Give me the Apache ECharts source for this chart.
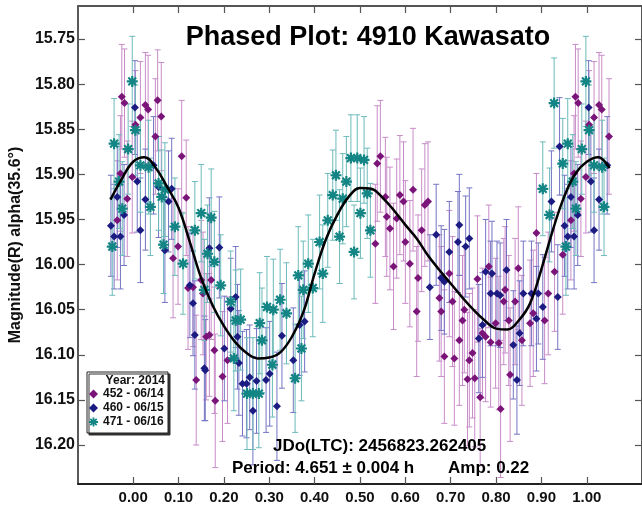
<!DOCTYPE html>
<html>
<head>
<meta charset="utf-8">
<script src="https://cdn.jsdelivr.net/npm/echarts@6/dist/echarts.min.js"></script>
<style>
html,body{margin:0;padding:0;background:#fff}
#Chart{width:642px;height:513px}
</style>
</head>
<body>
<div id="Chart"></div>
<script>
//tick labels
var xTicks=[0.00,0.10,0.20,0.30,0.40,0.50,0.60,0.70,0.80,0.90,1.00]
var yTicks=[15.75,15.80,15.85,15.90,15.95,16.00,16.05,16.10,16.15,16.20]

//[phase, mag, err]  452 - 06/14
var data452=[
[0.005,15.845,0.060],[0.016,15.837,0.062],[0.027,15.823,0.058],[0.033,15.828,0.060],[0.049,15.858,0.064],
[0.054,15.818,0.056],[0.062,15.836,0.060],[0.088,15.993,0.066],[0.099,15.980,0.064],[0.107,15.880,0.062],
[0.117,15.926,0.064],[0.121,16.026,0.068],[0.132,16.025,0.066],[0.139,16.128,0.072],[0.150,16.017,0.066],
[0.154,16.032,0.068],[0.161,16.080,0.070],[0.168,16.078,0.068],[0.172,16.017,0.066],[0.179,16.095,0.070],
[0.181,16.151,0.074],[0.197,16.124,0.072],[0.208,16.106,0.070],[0.534,15.977,0.066],[0.538,15.888,0.064],
[0.545,15.880,0.062],[0.556,15.925,0.066],[0.559,15.947,0.066],[0.566,15.960,0.068],[0.574,16.002,0.070],
[0.581,15.949,0.066],[0.588,15.923,0.066],[0.596,15.930,0.066],[0.600,15.975,0.068],[0.610,15.999,0.070],
[0.617,15.917,0.068],[0.625,16.052,0.072],[0.628,16.015,0.070],[0.636,15.962,0.068],[0.643,15.934,0.068],
[0.650,15.930,0.066],[0.675,16.037,0.070],[0.679,16.052,0.072],[0.686,16.102,0.074],[0.697,16.010,0.070],
[0.704,16.041,0.072],[0.708,16.104,0.074],[0.719,16.084,0.072],[0.726,16.062,0.072],[0.730,16.050,0.070],
[0.737,16.127,0.074],[0.741,16.106,0.074],[0.748,16.098,0.072],[0.753,16.126,0.076],[0.759,16.016,0.070],
[0.765,16.147,0.076],[0.770,16.076,0.072],[0.777,16.080,0.072],[0.784,16.002,0.068],[0.788,16.086,0.072],
[0.799,16.065,0.072],[0.806,16.087,0.074],[0.810,16.160,0.076],[0.817,16.041,0.070],[0.820,16.028,0.070],
[0.828,16.062,0.072],[0.831,16.122,0.074],[0.842,16.041,0.070],[0.849,16.004,0.068],[0.857,16.084,0.072],
[0.875,16.065,0.070],[0.882,16.054,0.070],[0.889,15.965,0.066],[0.907,16.062,0.070],[0.915,16.032,0.068],
[0.929,16.008,0.066],[0.947,15.989,0.066],[0.965,15.951,0.066],[0.972,15.899,0.064],[0.975,15.814,0.058],
[0.981,15.821,0.060],[0.987,15.927,0.064],[0.998,15.903,0.062]
]

//460 - 06/15
var data460=[
[0.004,15.826,0.052],[0.009,15.908,0.056],[0.016,15.962,0.058],[0.027,15.928,0.056],[0.045,15.890,0.054],
[0.056,15.914,0.056],[0.070,15.984,0.058],[0.078,15.930,0.056],[0.085,15.916,0.056],[0.125,16.023,0.058],
[0.132,16.043,0.058],[0.136,16.078,0.060],[0.157,16.115,0.058],[0.159,16.117,0.056],[0.168,15.982,0.056],
[0.190,15.981,0.056],[0.201,16.093,0.058],[0.215,16.049,0.056],[0.226,16.036,0.056],[0.230,16.080,0.058],
[0.233,16.109,0.058],[0.241,16.132,0.058],[0.250,16.132,0.060],[0.257,16.125,0.058],[0.264,16.162,0.060],
[0.272,16.129,0.058],[0.293,16.128,0.058],[0.301,16.121,0.058],[0.317,16.157,0.060],[0.328,16.079,0.058],
[0.353,16.106,0.058],[0.367,16.067,0.056],[0.378,16.063,0.056],[0.654,16.025,0.058],[0.668,15.967,0.056],
[0.679,16.015,0.058],[0.686,16.019,0.058],[0.697,15.986,0.056],[0.716,15.975,0.056],[0.719,15.956,0.056],
[0.733,15.980,0.056],[0.741,15.971,0.056],[0.762,16.082,0.060],[0.770,16.067,0.058],[0.777,16.008,0.058],
[0.788,16.032,0.058],[0.791,16.010,0.058],[0.802,16.032,0.058],[0.809,16.034,0.058],[0.823,16.006,0.056],
[0.838,16.089,0.060],[0.846,16.128,0.060],[0.852,16.076,0.058],[0.860,16.032,0.058],[0.878,16.032,0.058],
[0.889,16.060,0.058],[0.893,16.032,0.056],[0.903,16.047,0.058],[0.922,15.930,0.056],[0.936,16.036,0.058],
[0.940,15.869,0.054],[0.951,15.957,0.056],[0.958,15.969,0.058],[0.965,15.925,0.056],[0.972,15.969,0.058],
[0.980,15.945,0.056]
]

//471 - 06/16
var data471=[
[0.005,15.851,0.050],[0.016,15.890,0.052],[0.034,15.892,0.052],[0.038,15.936,0.054],[0.056,15.910,0.052],
[0.063,15.925,0.052],[0.067,15.978,0.054],[0.070,15.917,0.052],[0.092,15.958,0.054],[0.110,15.999,0.056],
[0.136,15.962,0.054],[0.150,15.943,0.054],[0.157,16.028,0.056],[0.164,15.988,0.054],[0.172,15.948,0.054],
[0.179,15.997,0.056],[0.193,16.023,0.056],[0.215,16.041,0.056],[0.222,16.104,0.058],[0.226,16.062,0.056],
[0.237,16.061,0.056],[0.251,16.143,0.062],[0.264,16.143,0.062],[0.277,16.143,0.060],[0.279,16.065,0.056],
[0.284,16.084,0.058],[0.295,16.047,0.056],[0.307,16.111,0.058],[0.309,16.050,0.056],[0.324,16.039,0.056],
[0.338,16.054,0.056],[0.357,16.126,0.060],[0.364,16.012,0.054],[0.371,16.093,0.058],[0.375,16.028,0.054],
[0.386,15.999,0.054],[0.396,16.026,0.054],[0.411,15.975,0.052],[0.418,16.010,0.054],[0.429,15.951,0.052],
[0.440,15.923,0.050],[0.447,15.901,0.050],[0.455,15.969,0.052],[0.462,15.927,0.050],[0.470,15.908,0.050],
[0.480,15.882,0.048],[0.487,15.986,0.052],[0.494,15.882,0.048],[0.501,15.943,0.050],[0.509,15.884,0.048],
[0.516,15.921,0.050],[0.523,15.962,0.052],[0.903,15.916,0.052],[0.918,15.945,0.052],[0.928,15.821,0.050],
[0.947,15.888,0.050],[0.954,15.980,0.054],[0.958,15.866,0.050],[0.969,15.908,0.052],[0.976,15.938,0.052],
[0.989,15.872,0.050],[0.998,15.797,0.050]
]

//fourier fit
var fitPhase=[-0.05,-0.025,0.0,0.025,0.05,0.075,0.10,0.125,0.15,0.175,0.20,0.225,0.25,0.275,0.30,0.325,0.35,0.375,0.40,0.425,0.45,0.475,0.50,0.525,0.55,0.575,0.60,0.625,0.65,0.675,0.70,0.725,0.75,0.775,0.80,0.825,0.85,0.875,0.90,0.925,0.95,0.975,1.0,1.025,1.05]
var fitMag=[15.928,15.905,15.886,15.881,15.893,15.914,15.937,15.975,16.015,16.045,16.068,16.086,16.098,16.104,16.103,16.097,16.080,16.053,16.010,15.972,15.945,15.925,15.915,15.916,15.926,15.940,15.956,15.971,15.990,16.006,16.021,16.036,16.050,16.062,16.071,16.072,16.062,16.043,16.005,15.962,15.925,15.899,15.886,15.881,15.893]

var names=['452 - 06/14','460 - 06/15','471 - 06/16']
var starPath='path://M-1,-5L1,-5L1,5L-1,5Z M-5,-1L5,-1L5,1L-5,1Z M2.83,4.25L-4.25,-2.83L-2.83,-4.25L4.25,2.83Z M-2.83,4.25L-4.25,2.83L2.83,-4.25L4.25,-2.83Z'
var FONT='"Liberation Sans", Arial, sans-serif'

//small helper instead of jquery
function extend(a,b){var o={};for(var k in a)o[k]=a[k];for(var k2 in b)o[k2]=b[k2];return o}

//phase plot repeats the edges
function wrapPhase(rows){
    var out=[]
    rows.forEach(function(r){
        out.push(r)
        if(r[0]<0.05) out.push([r[0]+1,r[1],r[2]])
        if(r[0]>0.95) out.push([r[0]-1,r[1],r[2]])
    })
    return out
}

function errSeries(rows,color){
    return {
        type:'custom',
        z:1,
        silent:true,
        encode:{x:0,y:1},
        data:rows,
        renderItem:function(params,api){
            var x=api.value(0),y=api.value(1),e=api.value(2)
            var a=api.coord([x,y-e]),b=api.coord([x,y+e])
            var w=3,st={stroke:color,lineWidth:1}
            return {type:'group',children:[
                {type:'line',shape:{x1:a[0],y1:a[1],x2:b[0],y2:b[1]},style:st},
                {type:'line',shape:{x1:a[0]-w,y1:a[1],x2:a[0]+w,y2:a[1]},style:st},
                {type:'line',shape:{x1:b[0]-w,y1:b[1],x2:b[0]+w,y2:b[1]},style:st}
            ]}
        }
    }
}

function dotSeries(name,rows,color,symbol,size){
    return {
        name:name,
        type:'scatter',
        z:3,
        symbol:symbol,
        symbolSize:size,
        itemStyle:{color:color,opacity:1},
        data:rows.map(function(r){return [r[0],r[1]]})
    }
}

function drawChar(){
    var myChart=echarts.init(document.getElementById('Chart'))
    var d452=wrapPhase(data452),d460=wrapPhase(data460),d471=wrapPhase(data471)
    var fit=fitPhase.map(function(p,i){return [p,fitMag[i]]})
    var xmin=-0.1217,xmax=1.1217,ymin=15.7134,ymax=16.2432
    var tickStyle={show:true,inside:true,length:7,lineStyle:{color:'#555',width:1.2}}

    var option={
        animation:false,
        grid:{left:75,right:-5,top:6,bottom:29},
        xAxis:[{
            type:'value',position:'bottom',min:xmin,max:xmax,
            splitLine:{show:false},
            axisLine:{onZero:false,lineStyle:{color:'#222',width:2}},
            axisTick:extend({customValues:xTicks},tickStyle),
            axisLabel:{customValues:xTicks,formatter:function(v){return v.toFixed(2)},
                color:'#111',fontFamily:FONT,fontWeight:'bold',fontSize:15,margin:6}
        },{
            type:'value',position:'top',min:xmin,max:xmax,
            splitLine:{show:false},
            axisLine:{show:true,onZero:false,lineStyle:{color:'#555',width:2}},
            axisTick:extend({customValues:xTicks},tickStyle),
            axisLabel:{show:false}
        }],
        yAxis:[{
            type:'value',position:'left',inverse:true,min:ymin,max:ymax,
            splitLine:{show:false},
            name:'Magnitude(R) alpha(35.6°)',nameLocation:'middle',nameRotate:90,nameGap:50,
            nameTextStyle:{color:'#111',fontFamily:FONT,fontWeight:'bold',fontSize:16},
            axisLine:{show:true,onZero:false,lineStyle:{color:'#222',width:1.5}},
            axisTick:extend({customValues:yTicks},tickStyle),
            axisLabel:{customValues:yTicks,formatter:function(v){return v.toFixed(2)},
                color:'#111',fontFamily:FONT,fontWeight:'bold',fontSize:16,margin:3}
        },{
            type:'value',position:'right',inverse:true,min:ymin,max:ymax,
            splitLine:{show:false},
            axisLine:{show:true,onZero:false,lineStyle:{color:'#555',width:2}},
            axisTick:extend({customValues:yTicks},tickStyle),
            axisLabel:{show:false}
        }],
        legend:{
            orient:'vertical',left:89,top:388,z:8,padding:0,
            itemWidth:9,itemHeight:9,itemGap:2,
            textStyle:{color:'#111',fontFamily:FONT,fontWeight:'bold',fontSize:12},
            data:[{name:names[0],icon:'diamond'},{name:names[1],icon:'diamond'},{name:names[2],icon:starPath}]
        },
        graphic:[
            {type:'text',x:368,y:38,z:10,style:{text:'Phased Plot: 4910 Kawasato',font:'bold 27px '+FONT,fill:'#000',textAlign:'center',textVerticalAlign:'middle'}},
            {type:'rect',z:7,shape:{x:87,y:372,width:81,height:61},style:{fill:'#fff',stroke:'#222',lineWidth:1,shadowColor:'#333',shadowOffsetX:2,shadowOffsetY:2,shadowBlur:0}},
            {type:'text',x:165,y:381,z:8,style:{text:'Year: 2014',font:'bold 12px '+FONT,fill:'#111',textAlign:'right',textVerticalAlign:'middle'}},
            {type:'text',x:273,y:446,z:10,style:{text:'JDo(LTC): 2456823.262405',font:'bold 17px '+FONT,fill:'#000',textAlign:'left',textVerticalAlign:'middle'}},
            {type:'text',x:232,y:468,z:10,style:{text:'Period: 4.651 ± 0.004 h',font:'bold 17px '+FONT,fill:'#000',textAlign:'left',textVerticalAlign:'middle'}},
            {type:'text',x:448,y:468,z:10,style:{text:'Amp: 0.22',font:'bold 17px '+FONT,fill:'#000',textAlign:'left',textVerticalAlign:'middle'}}
        ],
        series:[
            errSeries(d452,'#c88cc8'),
            errSeries(d460,'#7474c4'),
            errSeries(d471,'#6cbaba'),
            dotSeries(names[0],d452,'#7a1479','diamond',8),
            dotSeries(names[1],d460,'#1b1b82','diamond',8),
            dotSeries(names[2],d471,'#138585',starPath,11),
            {type:'line',z:5,data:fit,smooth:0.4,showSymbol:false,silent:true,
                lineStyle:{color:'#000',width:2.5}}
        ]
    }
    myChart.setOption(option)
}

drawChar()
</script>
</body>
</html>
